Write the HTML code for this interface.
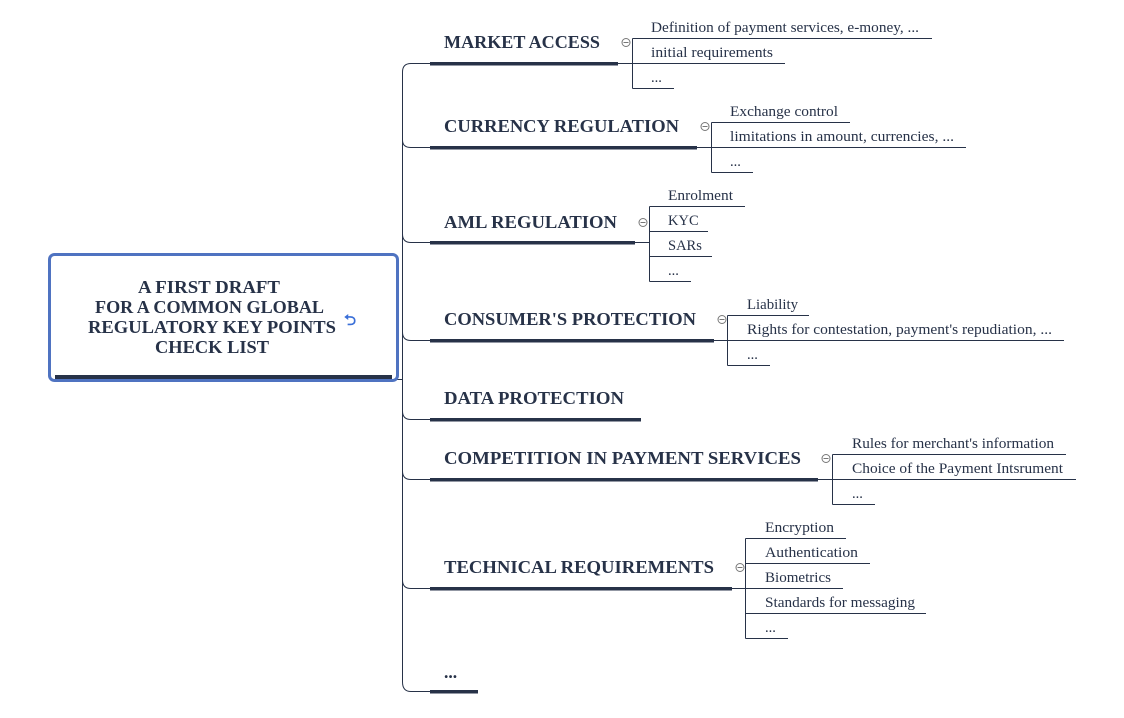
<!DOCTYPE html>
<html><head><meta charset="utf-8"><style>
html,body{margin:0;padding:0;background:#fff;}
svg{display:block;}
.m{font-family:"Liberation Serif",serif;font-weight:bold;font-size:17.5px;fill:#273248;}
.s{font-family:"Liberation Serif",serif;font-size:14.5px;fill:#273248;}
</style></head><body>
<svg width="1124" height="718" viewBox="0 0 1124 718" xmlns="http://www.w3.org/2000/svg">
<g fill="none" stroke="#273248" stroke-width="1">
<path d="M430,63.5 H411 Q402.5,63.5 402.5,72 V682 Q402.5,691.5 411,691.5 H430"/>
<path d="M402.5,140 Q402.5,147.5 411,147.5 H430"/>
<path d="M402.5,234 Q402.5,242.5 411,242.5 H430"/>
<path d="M402.5,332 Q402.5,340.5 411,340.5 H430"/>
<path d="M402.5,411 Q402.5,419.5 411,419.5 H430"/>
<path d="M402.5,471 Q402.5,479.5 411,479.5 H430"/>
<path d="M402.5,580 Q402.5,588.5 411,588.5 H430"/>
<path d="M392,379.5 H402.5"/>
<path d="M618,63.5 H632.5 M632.5,38.5 V88.5 M632.5,38.5 H932 M632.5,63.5 H785 M632.5,88.5 H674"/>
<path d="M697,147.5 H711.5 M711.5,122.5 V172.5 M711.5,122.5 H850 M711.5,147.5 H966 M711.5,172.5 H753"/>
<path d="M635,242.5 H649.5 M649.5,206.5 V281.5 M649.5,206.5 H745 M649.5,231.5 H708 M649.5,256.5 H712 M649.5,281.5 H691"/>
<path d="M714,340.5 H727.5 M727.5,315.5 V365.5 M727.5,315.5 H809 M727.5,340.5 H1064 M727.5,365.5 H770"/>
<path d="M818,479.5 H832.5 M832.5,454.5 V504.5 M832.5,454.5 H1066 M832.5,479.5 H1076 M832.5,504.5 H875"/>
<path d="M732,588.5 H745.5 M745.5,538.5 V638.5 M745.5,538.5 H846 M745.5,563.5 H870 M745.5,588.5 H843 M745.5,613.5 H926 M745.5,638.5 H788"/>
</g>
<g fill="#273248">
<rect x="430" y="62" width="188" height="3.5"/>
<rect x="430" y="146" width="267" height="3.5"/>
<rect x="430" y="241" width="205" height="3.5"/>
<rect x="430" y="339" width="284" height="3.5"/>
<rect x="430" y="418" width="211" height="3.5"/>
<rect x="430" y="478" width="388" height="3.5"/>
<rect x="430" y="587" width="302" height="3.5"/>
<rect x="430" y="690" width="48" height="3.5"/>
</g>
<g fill="#fff" stroke="#777" stroke-width="1">
<circle cx="626" cy="42.5" r="4"/><circle cx="705" cy="126.5" r="4"/><circle cx="643" cy="222.5" r="4"/>
<circle cx="722" cy="319.5" r="4"/><circle cx="826" cy="458.5" r="4"/><circle cx="740" cy="567.5" r="4"/>
</g>
<g stroke="#777" stroke-width="1">
<path d="M623.5,42.5h5M702.5,126.5h5M640.5,222.5h5M719.5,319.5h5M823.5,458.5h5M737.5,567.5h5"/>
</g>
<rect x="49.5" y="254.5" width="348" height="126" rx="5" fill="#fff" stroke="#4f73c1" stroke-width="3"/>
<rect x="55" y="375" width="337" height="4" fill="#273248"/>
<g class="m">
<text x="138" y="293" textLength="142" lengthAdjust="spacingAndGlyphs">A FIRST DRAFT</text>
<text x="95" y="313" textLength="229" lengthAdjust="spacingAndGlyphs">FOR A COMMON GLOBAL</text>
<text x="88" y="333" textLength="248" lengthAdjust="spacingAndGlyphs">REGULATORY KEY POINTS</text>
<text x="155" y="353" textLength="114" lengthAdjust="spacingAndGlyphs">CHECK LIST</text>
</g>
<text x="344" y="325" style="font-family:'DejaVu Sans',sans-serif;font-size:15px;font-weight:bold;fill:#3a6fd8">⮌</text>
<g class="m">
<text x="444" y="48" textLength="156" lengthAdjust="spacingAndGlyphs">MARKET ACCESS</text>
<text x="444" y="132" textLength="235" lengthAdjust="spacingAndGlyphs">CURRENCY REGULATION</text>
<text x="444" y="228" textLength="173" lengthAdjust="spacingAndGlyphs">AML REGULATION</text>
<text x="444" y="325" textLength="252" lengthAdjust="spacingAndGlyphs">CONSUMER'S PROTECTION</text>
<text x="444" y="404" textLength="180" lengthAdjust="spacingAndGlyphs">DATA PROTECTION</text>
<text x="444" y="464" textLength="357" lengthAdjust="spacingAndGlyphs">COMPETITION IN PAYMENT SERVICES</text>
<text x="444" y="573" textLength="270" lengthAdjust="spacingAndGlyphs">TECHNICAL REQUIREMENTS</text>
<text x="444" y="678">...</text>
</g>
<g class="s">
<text x="651" y="32" textLength="268" lengthAdjust="spacingAndGlyphs">Definition of payment services, e-money, ...</text>
<text x="651" y="57" textLength="122" lengthAdjust="spacingAndGlyphs">initial requirements</text>
<text x="651" y="82">...</text>
<text x="730" y="116" textLength="108" lengthAdjust="spacingAndGlyphs">Exchange control</text>
<text x="730" y="141" textLength="224" lengthAdjust="spacingAndGlyphs">limitations in amount, currencies, ...</text>
<text x="730" y="166">...</text>
<text x="668" y="200" textLength="65" lengthAdjust="spacingAndGlyphs">Enrolment</text>
<text x="668" y="225">KYC</text>
<text x="668" y="250">SARs</text>
<text x="668" y="275">...</text>
<text x="747" y="309" textLength="51" lengthAdjust="spacingAndGlyphs">Liability</text>
<text x="747" y="334" textLength="305" lengthAdjust="spacingAndGlyphs">Rights for contestation, payment's repudiation, ...</text>
<text x="747" y="359">...</text>
<text x="852" y="448" textLength="202" lengthAdjust="spacingAndGlyphs">Rules for merchant's information</text>
<text x="852" y="473" textLength="211" lengthAdjust="spacingAndGlyphs">Choice of the Payment Intsrument</text>
<text x="852" y="498">...</text>
<text x="765" y="532" textLength="69" lengthAdjust="spacingAndGlyphs">Encryption</text>
<text x="765" y="557" textLength="93" lengthAdjust="spacingAndGlyphs">Authentication</text>
<text x="765" y="582" textLength="66" lengthAdjust="spacingAndGlyphs">Biometrics</text>
<text x="765" y="607" textLength="150" lengthAdjust="spacingAndGlyphs">Standards for messaging</text>
<text x="765" y="632">...</text>
</g>
</svg>
</body></html>
